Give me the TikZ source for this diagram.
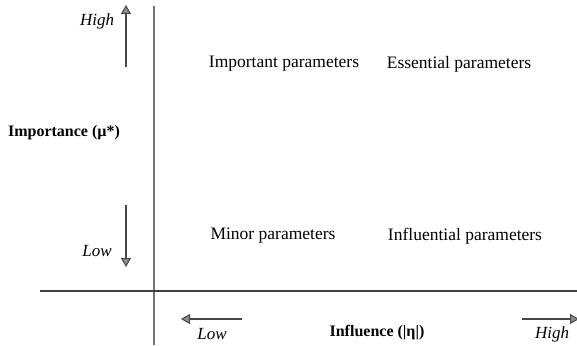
\documentclass[tikz,border=0pt]{standalone}
\usepackage{fontspec}
\setmainfont{Liberation Serif}
\usetikzlibrary{arrows.meta}
\begin{document}
\begin{tikzpicture}[x=1pt,y=-1pt,
  axis/.style={line width=1.2pt},
  dirarrow/.style={line width=1.8pt,draw=black!72,
    -{Triangle[length=9pt,width=10pt,fill=black!45,color=black!72,line width=1pt]}},
  quad/.style={font=\fontsize{17.5}{20}\selectfont},
  ticklabel/.style={font=\fontsize{17}{20}\selectfont\itshape},
  axislabel/.style={font=\fontsize{16}{19}\selectfont\bfseries}]
\useasboundingbox (0,0) rectangle (577,345);
% axes
\coordinate (vtop) at (154,6);
\coordinate (vbot) at (154,345);
\coordinate (hl) at (40,291);
\coordinate (hr) at (577,291);
\draw[axis,draw=black!55] (vtop) -- (vbot);
\draw[axis,draw=black!75] (hl) -- (hr);
% vertical direction arrows
\coordinate (hiS) at (126,67);
\coordinate (hiE) at (126,5);
\coordinate (loS) at (126,205);
\coordinate (loE) at (126,267);
\draw[dirarrow] (hiS) -- (hiE);
\draw[dirarrow] (loS) -- (loE);
\node[ticklabel] (vhigh) at (97,21) {High};
\node[ticklabel] (vlow) at (97,251) {Low};
\node[axislabel] (ylab) at (64,133) {Importance (µ*)};
% horizontal direction arrows
\coordinate (hlS) at (242,319);
\coordinate (hlE) at (181,319);
\coordinate (hhS) at (522,319);
\coordinate (hhE) at (579,319);
\draw[dirarrow] (hlS) -- (hlE);
\draw[dirarrow] (hhS) -- (hhE);
\node[ticklabel] (hlow) at (212,334) {Low};
\node[ticklabel] (hhigh) at (552,334) {High};
\node[axislabel] (xlab) at (377,333) {Influence (|η|)};
% quadrants
\node[quad] (q1) at (284,64) {Important parameters};
\node[quad] (q2) at (459,64) {Essential parameters};
\node[quad] (q3) at (273,236) {Minor parameters};
\node[quad] (q4) at (465,236) {Influential parameters};
\end{tikzpicture}
\end{document}
